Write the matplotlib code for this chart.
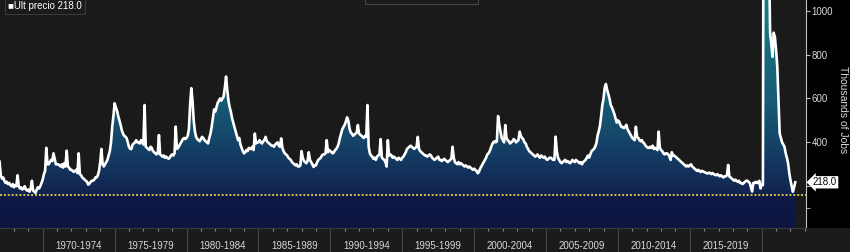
import numpy as np
import matplotlib.pyplot as plt
import matplotlib.transforms as mtransforms
from matplotlib.colors import LinearSegmentedColormap
from matplotlib.patches import Rectangle

plt.rcParams['font.family'] = ['Liberation Sans', 'DejaVu Sans']

# monthly initial claims (thousands), starting Jan 1967
start_year = 1967
claims_1960s = [312, 250, 235, 240, 225, 215, 220, 210, 215, 205, 200, 210,
                195, 205, 200, 250, 200, 190, 195, 185, 190, 200, 185, 180,
                185, 175, 190, 225, 180, 175, 170, 185, 195, 190, 200, 215]
claims_1970s = [230, 255, 270, 375, 300, 300, 310, 320, 315, 350, 325, 300,
                300, 300, 295, 290, 300, 285, 305, 290, 362, 290, 285, 275,
                275, 270, 265, 270, 275, 260, 350, 255, 250, 240, 235, 230,
                225, 220, 207, 212, 220, 225, 225, 230, 240, 240, 250, 270,
                310, 370, 300, 290, 300, 310, 320, 340, 360, 400, 470, 520,
                578, 560, 545, 520, 500, 480, 455, 440, 430, 426, 420, 400,
                380, 370, 370, 390, 395, 400, 410, 400, 400, 395, 410, 400,
                390, 570, 380, 375, 370, 365, 380, 375, 360, 355, 350, 345,
                350, 433, 345, 340, 335, 340, 330, 335, 330, 325, 330, 340,
                345, 340, 350, 472, 370, 375, 385, 395, 405, 415, 420, 415]
claims_1980s = [420, 430, 460, 570, 647, 590, 500, 450, 425, 415, 410, 405,
                415, 425, 420, 410, 405, 400, 395, 420, 440, 470, 510, 550,
                540, 560, 580, 590, 600, 590, 600, 610, 650, 700, 640, 590,
                560, 540, 510, 490, 470, 450, 430, 410, 420, 390, 375, 360,
                350, 355, 365, 360, 375, 370, 370, 380, 365, 440, 395, 400,
                400, 410, 400, 395, 405, 410, 425, 405, 400, 395, 390, 385,
                385, 380, 390, 395, 400, 385, 380, 418, 375, 360, 350, 345,
                340, 330, 325, 320, 310, 305, 300, 295, 300, 290, 290, 295,
                360, 330, 315, 310, 305, 315, 355, 320, 310, 300, 288, 295,
                295, 310, 320, 325, 330, 340, 345, 345, 350, 410, 355, 365]
claims_1990s = [360, 355, 350, 355, 365, 370, 380, 395, 420, 440, 460, 470,
                480, 495, 514, 500, 465, 445, 440, 430, 435, 440, 445, 479,
                440, 435, 430, 425, 420, 430, 425, 570, 380, 350, 340, 335,
                325, 330, 320, 335, 340, 345, 415, 330, 325, 320, 310, 290,
                410, 340, 345, 340, 330, 335, 330, 325, 320, 330, 325, 320,
                330, 335, 345, 355, 370, 375, 380, 385, 380, 375, 370, 375,
                380, 425, 370, 360, 355, 350, 345, 340, 340, 335, 340, 345,
                340, 330, 325, 320, 325, 330, 335, 320, 320, 315, 320, 325,
                320, 315, 310, 315, 320, 325, 380, 330, 310, 305, 300, 310,
                300, 305, 300, 295, 290, 295, 290, 285, 290, 285, 280, 275]
claims_2000s = [280, 275, 270, 259, 265, 280, 290, 300, 310, 320, 330, 345,
                350, 360, 375, 390, 400, 405, 400, 405, 520, 480, 450, 420,
                410, 400, 479, 420, 410, 405, 395, 400, 405, 415, 410, 400,
                405, 410, 449, 430, 420, 415, 400, 395, 380, 370, 360, 355,
                350, 345, 340, 335, 340, 345, 335, 330, 340, 335, 330, 335,
                325, 320, 325, 330, 330, 325, 320, 320, 426, 360, 330, 320,
                310, 305, 310, 315, 320, 310, 315, 310, 305, 310, 320, 315,
                310, 320, 315, 310, 305, 310, 300, 310, 315, 320, 330, 340,
                330, 345, 360, 365, 370, 380, 395, 430, 450, 475, 520, 570,
                600, 650, 666, 640, 620, 600, 570, 560, 545, 530, 510, 490]
claims_2010s = [500, 495, 480, 470, 470, 465, 470, 480, 460, 450, 440, 430,
                420, 415, 410, 471, 425, 420, 410, 405, 410, 400, 395, 385,
                380, 375, 375, 380, 375, 385, 370, 375, 370, 365, 449, 375,
                365, 360, 350, 345, 350, 350, 345, 335, 320, 355, 340, 340,
                335, 330, 325, 320, 315, 310, 305, 300, 295, 290, 295, 290,
                295, 300, 290, 285, 280, 275, 270, 275, 270, 265, 270, 268,
                265, 262, 260, 258, 262, 260, 255, 260, 255, 252, 250, 255,
                250, 245, 250, 245, 240, 245, 245, 250, 297, 245, 240, 235,
                230, 225, 230, 225, 220, 225, 215, 215, 210, 215, 220, 225,
                225, 220, 215, 195, 176, 215, 215, 220, 215, 215, 225, 190]
claims_2020s = [210, 205, 2900, 5000, 2400, 1500, 1300, 900, 850, 790, 900, 880,
                820, 745, 593, 441, 420, 400, 390, 380, 350, 330, 305, 260,
                228, 200, 175, 195, 218]

last_value = 218.0
low_line = 160
period_starts = [1970, 1975, 1980, 1985, 1990, 1995, 2000, 2005, 2010, 2015]
period_labels = ['1970-1974', '1975-1979', '1980-1984', '1985-1989', '1990-1994',
                 '1995-1999', '2000-2004', '2005-2009', '2010-2014', '2015-2019']

claims = np.array(claims_1960s + claims_1970s + claims_1980s + claims_1990s
                  + claims_2000s + claims_2010s + claims_2020s, dtype=float)
t = start_year + np.arange(len(claims)) / 12

fig = plt.figure(figsize=(8.5, 2.52), dpi=100, facecolor='#1b1b1b')
fig.patches.append(Rectangle((806 / 850, 24 / 252), 44 / 850, 228 / 252,
                             transform=fig.transFigure, fc='black', ec='none', zorder=-1))
# bit of toolbar cut off at the top
fig.patches.append(Rectangle((365 / 850, 1 - 4 / 252), 113 / 850, 6 / 252,
                             transform=fig.transFigure, fc='#1b1b1b', ec='#474747', lw=0.8))

ax = fig.add_axes([0, 24 / 252, 806 / 850, 228 / 252], facecolor='#1a1a1a')
y0, y1 = 9.6, 1049


def p(v):
    return (v - y0) / (y1 - y0)


cmap = LinearSegmentedColormap.from_list('area', [
    (0.0, '#0d1440'), (p(low_line - 1), '#0f1a48'), (p(low_line + 1), '#11234f'),
    (p(350), '#143d64'), (p(600), '#175d76'), (1.0, '#1a7a88')])
grad = np.linspace(0, 1, 1000).reshape(-1, 1)
img = ax.imshow(grad, extent=[t[0], t[-1], y0, y1], origin='lower', aspect='auto',
                cmap=cmap, interpolation='bilinear', zorder=1)
poly = ax.fill_between(t, claims, y0, facecolor='none', edgecolor='none')
img.set_clip_path(poly.get_paths()[0], transform=ax.transData)

ax.axhline(low_line, color='#cdc54c', lw=1.4, ls=(0, (1, 1)), zorder=2)
ax.plot(t, claims, color='white', lw=1.9, zorder=3)

ax.set_xlim(1967.03, 2023.08)
ax.set_ylim(y0, y1)

for s in ['left', 'top']:
    ax.spines[s].set_visible(False)
ax.spines['right'].set_color('#c0c0c0')
ax.spines['bottom'].set_color('#3a3a3a')

ax.yaxis.tick_right()
ax.set_yticks([200, 400, 600, 800, 1000])
ax.set_yticklabels(['', '400', '600', '800', '1000'])  # 200 sits under the last-value tag
ax.set_yticks([100], minor=True)
ax.tick_params(axis='y', which='both', direction='out', length=3, color='#c0c0c0',
               labelcolor='#d8d8d8', labelsize=7, pad=1)

ax.set_xticks(range(1970, 2021, 5))
ax.set_xticks(range(1968, 2024), minor=True)
ax.set_xticklabels([])
ax.tick_params(axis='x', which='major', direction='out', length=17.5, color='#4a4a4a', width=0.8)
ax.tick_params(axis='x', which='minor', direction='out', length=2.5, color='#8a8a8a', width=0.8)

trans = mtransforms.blended_transform_factory(ax.transData, ax.transAxes)
for s, lab in zip(period_starts, period_labels):
    ax.text(s + 2.5, -0.078, lab, transform=trans, ha='center', va='center',
            fontsize=7, color='#d8d8d8')

fig.text(843 / 850, 1 - 110 / 252, 'Thousands of Jobs', rotation=270, ha='center',
         va='center', fontsize=7.5, color='#d8d8d8')

ytrans = mtransforms.blended_transform_factory(ax.transAxes, ax.transData)
ax.text(1.0 + 7 / 806, last_value, '%.1f' % last_value, transform=ytrans, ha='left',
        va='center', fontsize=7, color='black', zorder=5, clip_on=False,
        bbox=dict(boxstyle='larrow,pad=0.12', fc='white', ec='none'))

fig.text(8 / 850, 1 - 6 / 252, '\u25a0Ult precio %.1f' % last_value, ha='left', va='center',
         fontsize=7, color='white',
         bbox=dict(boxstyle='square,pad=0.35', fc='#1b1b1b', ec='#3a3a3a', lw=0.8))

fig.savefig('out.png', dpi=100, facecolor=fig.get_facecolor())
